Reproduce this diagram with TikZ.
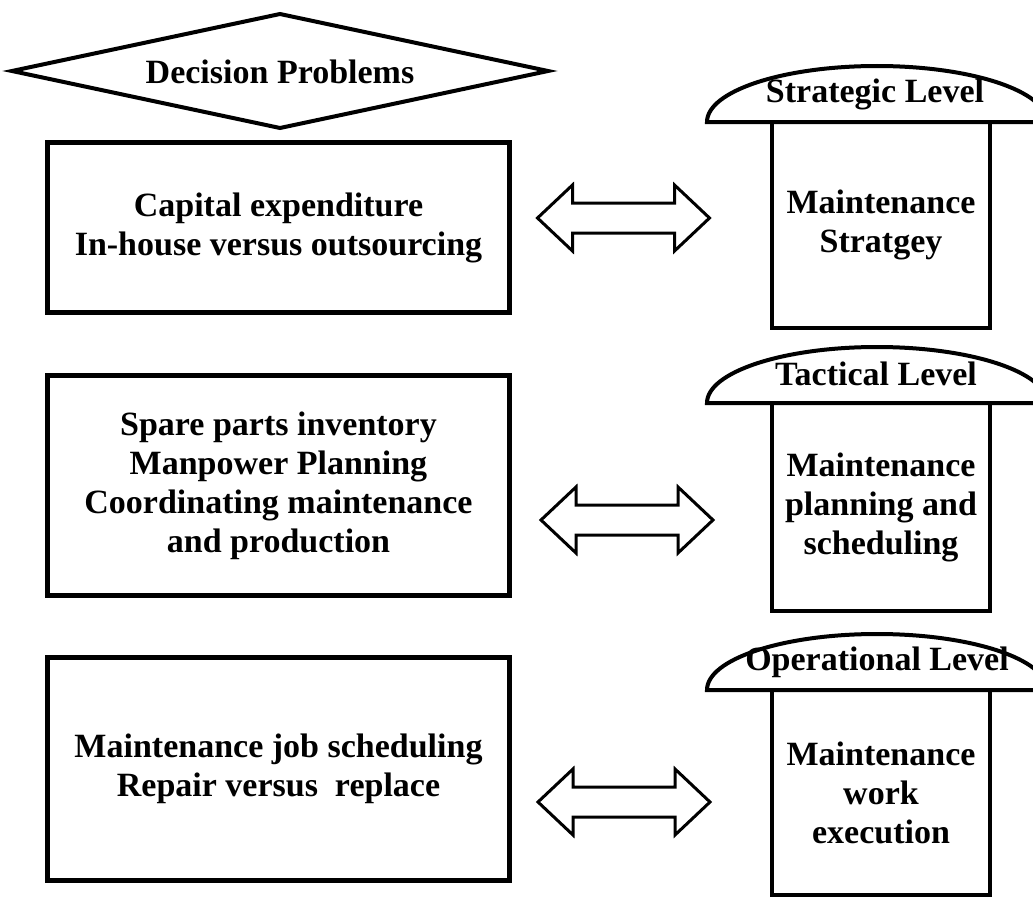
\documentclass[tikz,border=0pt]{standalone}
\usepackage{fontspec}
\setmainfont{Liberation Serif}
\begin{document}
\begin{tikzpicture}[x=1pt,y=-1pt,
  txt/.style={font=\fontsize{34}{39}\selectfont\bfseries, align=center, inner sep=0pt},
  probbox/.style={txt, draw, line width=5pt},
  levelbox/.style={txt, draw, line width=4pt, minimum width=218pt},
  dome/.style={draw, fill=white, line width=4pt},
  decision/.style={draw, fill=white, line width=4pt, line join=miter},
  arrowline/.style={draw, fill=white, line width=3pt, line join=miter},
  dblarrow/.pic={\path[arrowline] (-86,0) -- (-51,-33) -- (-51,-15) -- (51,-15) -- (51,-33)
      -- (86,0) -- (51,33) -- (51,15) -- (-51,15) -- (-51,33) -- cycle;}
]
\useasboundingbox (0,0) rectangle (1033,899);
\clip (0,0) rectangle (1033,899);

% heading
\draw[decision] (12,71) -- (280,14) -- (548,71) -- (280,128) -- cycle;
\node[txt, anchor=base] (dp) at (280,84) {Decision Problems};

% decision problems, one box per level
\node[probbox, minimum width=462pt, minimum height=170pt] (box1) at (278.5,227.5)
  {Capital expenditure\\In-house versus outsourcing};
\node[probbox, minimum width=462pt, minimum height=220pt] (box2) at (278.5,485.5)
  {Spare parts inventory\\Manpower Planning\\Coordinating maintenance\\and production};
\node[probbox, minimum width=462pt, minimum height=223pt] (box3) at (278.5,769)
  {Maintenance job scheduling\\Repair versus\ \ replace};

% maintenance levels
\node[levelbox, minimum height=206pt] (lev1) at (881,225) {Maintenance\\Stratgey};
\node[levelbox, minimum height=208pt] (lev2) at (881,507) {Maintenance\\planning and\\scheduling};
\node[levelbox, minimum height=205pt] (lev3) at (881,792.5) {Maintenance\\work\\execution};

% caps on top of the level boxes
\draw[dome] (707,122) arc[start angle=180, end angle=0, x radius=170pt, y radius=56pt] -- cycle;
\draw[dome] (707,403) arc[start angle=180, end angle=0, x radius=170pt, y radius=56pt] -- cycle;
\draw[dome] (707,690) arc[start angle=180, end angle=0, x radius=170pt, y radius=56pt] -- cycle;
\node[txt, anchor=base] (cap1) at (875,102) {Strategic Level};
\node[txt, anchor=base] (cap2) at (876,385) {Tactical Level};
\node[txt, anchor=base] (cap3) at (877,670) {Operational Level};

% two-way links between problems and levels
\pic (link1) at (623.5,218) {dblarrow};
\pic (link2) at (627,520) {dblarrow};
\pic (link3) at (624,802) {dblarrow};
\end{tikzpicture}
\end{document}
